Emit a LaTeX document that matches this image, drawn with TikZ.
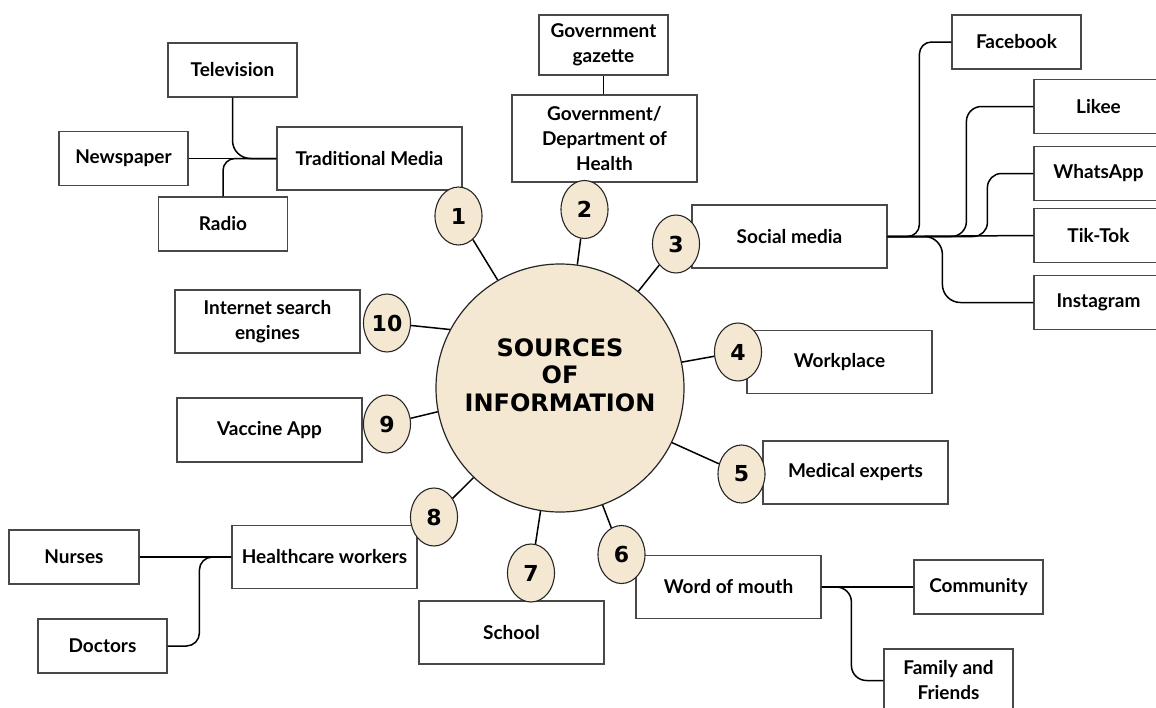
\documentclass[tikz,border=0pt]{standalone}
\usepackage{fontspec}
\setmainfont{Lato}
\newfontfamily\hubfont{DejaVu Sans}
\usetikzlibrary{shapes.geometric}
\definecolor{bubble}{RGB}{245,232,211}
\definecolor{frame}{RGB}{72,72,72}
\begin{document}
\begin{tikzpicture}[x=1pt,y=-1pt,
  box/.style={rectangle, draw=frame, line width=1.2pt, fill=white, inner sep=2pt,
    align=center, text=black, font=\fontsize{19}{25}\selectfont\bfseries},
  wide/.style={box, minimum width=185pt, minimum height=63pt},
  narrow/.style={box, minimum width=129pt, minimum height=54pt},
  bub/.style={ellipse, draw=black!85, line width=1.1pt, fill=bubble,
    minimum width=47pt, minimum height=58pt, inner sep=0pt,
    font=\hubfont\bfseries\fontsize{22}{22}\selectfont},
  link/.style={line width=1.5pt, black},
]
\useasboundingbox (0,0) rectangle (1156,707);
\fill[white] (0,0) rectangle (1156,707);

% central hub
\node[circle, draw=black!85, line width=1.2pt, fill=bubble, minimum size=248pt, inner sep=0pt] (hub) at (560,388) {};
\node[align=center, font=\hubfont\bfseries\fontsize{24}{27.5}\selectfont] (hubtext) at (560,375) {SOURCES\\OF\\INFORMATION};

% 1 traditional media
\node[wide] (trad) at (369.5,158.5) {Traditional Media};
\node[narrow] (tv) at (232.5,70) {Television};
\node[narrow] (news) at (123.5,158.5) {Newspaper};
\node[narrow] (radio) at (223,224) {Radio};
% 2 government
\node[box, minimum width=185pt, minimum height=87pt] (gov) at (604.5,138.5) {Government/\\Department of\\Health};
\node[box, minimum width=129pt, minimum height=60pt] (gaz) at (603.5,45) {Government\\gazette};
% 3 social media
\node[box, minimum width=195pt, minimum height=63pt] (soc) at (789.5,236.5) {Social media};
\node[narrow] (fb) at (1016.5,42) {Facebook};
\node[narrow] (likee) at (1098.5,106.5) {Likee};
\node[narrow] (wa) at (1098.5,173.5) {WhatsApp};
\node[narrow] (tt) at (1098.5,235.5) {Tik-Tok};
\node[narrow] (ig) at (1098.5,302.5) {Instagram};
% 4, 5
\node[wide] (work) at (839.5,362) {Workplace};
\node[wide] (med) at (855.5,472.5) {Medical experts};
% 6 word of mouth
\node[wide] (wom) at (728.5,587) {Word of mouth};
\node[narrow] (comm) at (978.5,587) {Community};
\node[box, minimum width=129pt, minimum height=63pt] (fam) at (948.5,680.5) {Family and\\Friends};
% 7
\node[wide] (school) at (511.5,632.5) {School};
% 8 healthcare workers
\node[wide] (hw) at (324.5,557) {Healthcare workers};
\node[narrow, minimum width=130pt] (nurses) at (74,557) {Nurses};
\node[narrow] (doctors) at (102.5,646) {Doctors};
% 9, 10
\node[wide, minimum height=64pt] (vacc) at (269.5,430) {Vaccine App};
\node[wide] (inet) at (267.5,321.5) {Internet search\\engines};

% numbered bubbles
\node[bub] (b1) at (458.5,216) {1};
\node[bub] (b2) at (584.5,209.5) {2};
\node[bub] (b3) at (676,244) {3};
\node[bub] (b4) at (738,352) {4};
\node[bub] (b5) at (741.5,474) {5};
\node[bub] (b6) at (621.5,554.5) {6};
\node[bub] (b7) at (531,573) {7};
\node[bub] (b8) at (434,517) {8};
\node[bub] (b9) at (387,424) {9};
\node[bub] (b10) at (387,323) {10};

% spokes from the hub
\draw[link] (b1) -- (hub.120);
\draw[link] (b2) -- (hub.82);
\draw[link] (b3) -- (hub.51);
\draw[link] (b4) -- (hub.12);
\draw[link] (b5) -- (hub.-26);
\draw[link] (b6) -- (hub.-70);
\draw[link] (b7) -- (hub.-99);
\draw[link] (b8) -- (hub.-134);
\draw[link] (b9) -- (hub.191);
\draw[link] (b10) -- (hub.152);

% traditional media branches
\draw[link] (news.east) -- (trad.west);
\draw[link, rounded corners=18pt] (tv.south) |- (trad.west);
\draw[link, rounded corners=12pt] (radio.north) |- (trad.west);
% government
\draw[link] (gaz.south) -- (gaz.south |- gov.north);
% social media branches
\draw[link, rounded corners=12pt] (soc.east) -| ([xshift=-32pt]fb.west) -- (fb.west);
\draw[link, rounded corners=15pt] (soc.east) -| ([xshift=-67pt]likee.west) -- (likee.west);
\draw[link, rounded corners=14pt] (soc.east) -| ([xshift=-46pt]wa.west) -- (wa.west);
\draw[link] (soc.east) -- (tt.west);
\draw[link, rounded corners=18pt] (soc.east) -| ([xshift=-91pt]ig.west) -- (ig.west);
% healthcare workers branches
\draw[link] (nurses.east) -- (hw.west);
\draw[link, rounded corners=13pt] (doctors.east) -| ([xshift=-32pt]hw.west) -- (hw.west);
% word of mouth branches
\draw[link] (wom.east) -- (comm.west);
\draw[link, rounded corners=15pt] (wom.east) -| ([xshift=-32pt]fam.west) -- (fam.west);
\end{tikzpicture}
\end{document}
